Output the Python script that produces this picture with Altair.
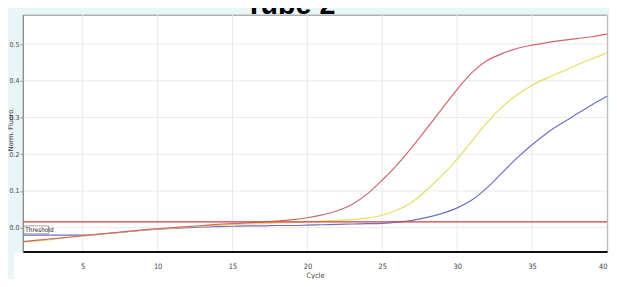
import altair as alt
import pandas as pd

cycles = list(range(1, 41))
red = [-0.038, -0.034, -0.030, -0.026, -0.022, -0.018, -0.014, -0.010, -0.006, -0.003,
       0.000, 0.003, 0.006, 0.009, 0.011, 0.013, 0.015, 0.018, 0.022, 0.027,
       0.035, 0.046, 0.064, 0.092, 0.130, 0.172, 0.220, 0.272, 0.325, 0.377,
       0.423, 0.455, 0.474, 0.488, 0.497, 0.504, 0.510, 0.515, 0.520, 0.527]
yellow = [-0.040, -0.036, -0.032, -0.027, -0.023, -0.019, -0.015, -0.011, -0.007, -0.004,
          -0.001, 0.002, 0.004, 0.006, 0.008, 0.010, 0.011, 0.013, 0.014, 0.016,
          0.018, 0.020, 0.022, 0.026, 0.034, 0.048, 0.070, 0.104, 0.143, 0.187,
          0.237, 0.287, 0.329, 0.362, 0.388, 0.408, 0.425, 0.443, 0.460, 0.476]
blue = [-0.020, -0.020, -0.020, -0.020, -0.020, -0.018, -0.015, -0.011, -0.007, -0.004,
        -0.002, 0.000, 0.002, 0.003, 0.004, 0.005, 0.005, 0.006, 0.006, 0.007,
        0.008, 0.009, 0.010, 0.011, 0.012, 0.015, 0.020, 0.028, 0.039, 0.054,
        0.076, 0.109, 0.150, 0.190, 0.226, 0.258, 0.285, 0.310, 0.335, 0.358]
threshold = [0.016]
x_ticks = [5, 10, 15, 20, 25, 30, 35, 40]
y_ticks = [0.0, 0.1, 0.2, 0.3, 0.4, 0.5]
series_names = ["blue", "yellow", "red"]
series_colors = ["#6e6ec4", "#e4de66", "#d0666c"]

rows = []
for name, vals in zip(series_names, [blue, yellow, red]):
    for c, v in zip(cycles, vals):
        rows.append({"cycle": c, "value": v, "series": name})
df = pd.DataFrame(rows)

W, H = 592, 240
FONT = "Liberation Sans Narrow, DejaVu Sans Condensed, Arial Narrow, Roboto Condensed, Liberation Sans, sans-serif"

xs = alt.Scale(domain=[1, 40], nice=False, zero=False)
ys = alt.Scale(domain=[-0.065, 0.58], nice=False, zero=False)

x_axis = alt.Axis(values=x_ticks, title="Cycle", grid=False, ticks=False,
                  labelPadding=11, labelFontSize=7.5, labelFont=FONT,
                  labelColor="#444", titleFont=FONT, titleFontSize=7.5,
                  titleFontWeight="normal", titleColor="#444",
                  titlePadding=2, domainColor="#111", domainWidth=2, zindex=1)
y_axis = alt.Axis(values=y_ticks, format=".1f", title="Norm. Fluoro.",
                  grid=False, tickSize=3, tickColor="#999",
                  labelPadding=1, labelFontSize=7, labelFont=FONT,
                  labelColor="#444", titleFont="DejaVu Sans",
                  titleFontSize=6.5, titleFontWeight="normal",
                  titleColor="#333", titleX=-9.5, titleY=116,
                  domainColor="#888", domainWidth=1, zindex=1)

# white band below the plot
band = alt.Chart(pd.DataFrame({"a": [0]})).mark_rect(color="white").encode(
    x=alt.value(-9), x2=alt.value(600), y=alt.value(241), y2=alt.value(272))

vgrid = alt.Chart(pd.DataFrame({"cycle": x_ticks})).mark_rule(
    color="#e9e9e9", strokeWidth=1).encode(x=alt.X("cycle:Q", scale=xs, axis=x_axis))
hgrid = alt.Chart(pd.DataFrame({"value": y_ticks})).mark_rule(
    color="#e9e9e9", strokeWidth=1).encode(y=alt.Y("value:Q", scale=ys, axis=y_axis))

thr = alt.Chart(pd.DataFrame({"value": threshold})).mark_rule(
    color="#d23c3c", strokeWidth=1.3).encode(y=alt.Y("value:Q", scale=ys, axis=y_axis))

layers = []
for name, col in zip(series_names, series_colors):
    layers.append(
        alt.Chart(df).transform_filter(alt.datum.series == name)
        .mark_line(color=col, strokeWidth=1.2, interpolate="monotone")
        .encode(
            x=alt.X("cycle:Q", scale=xs, axis=x_axis),
            y=alt.Y("value:Q", scale=ys, axis=y_axis),
        )
    )

box = alt.Chart(pd.DataFrame({"a": [0]})).mark_rect(
    fill="white", stroke="#8a8a8a", strokeWidth=0.8).encode(
    x=alt.value(1), x2=alt.value(26), y=alt.value(214), y2=alt.value(222))
box_text = alt.Chart(pd.DataFrame({"label": ["Threshold"]})).mark_text(
    align="left", baseline="middle", fontSize=6.5, font=FONT, color="#222").encode(
    text="label:N", x=alt.value(2.5), y=alt.value(218.5))

title = alt.Chart(pd.DataFrame({"t": ["Tube 2"]})).mark_text(
    align="center", baseline="alphabetic", fontSize=29, fontWeight="bold",
    font="Liberation Sans", color="#000").encode(
    text="t:N", x=alt.value(271), y=alt.value(-1))

chart = alt.layer(band, vgrid, hgrid, *layers, thr, box, box_text, title).properties(
    width=W, height=H,
    autosize=alt.AutoSizeParams(type="none"),
    padding={"left": 15, "top": 5, "right": 2, "bottom": 26},
    background="#eaf5f8",
).configure_view(fill="white", stroke="#8c8c8c", strokeWidth=1)

chart.save("out.html", embed_options={"renderer": "svg", "actions": False})
